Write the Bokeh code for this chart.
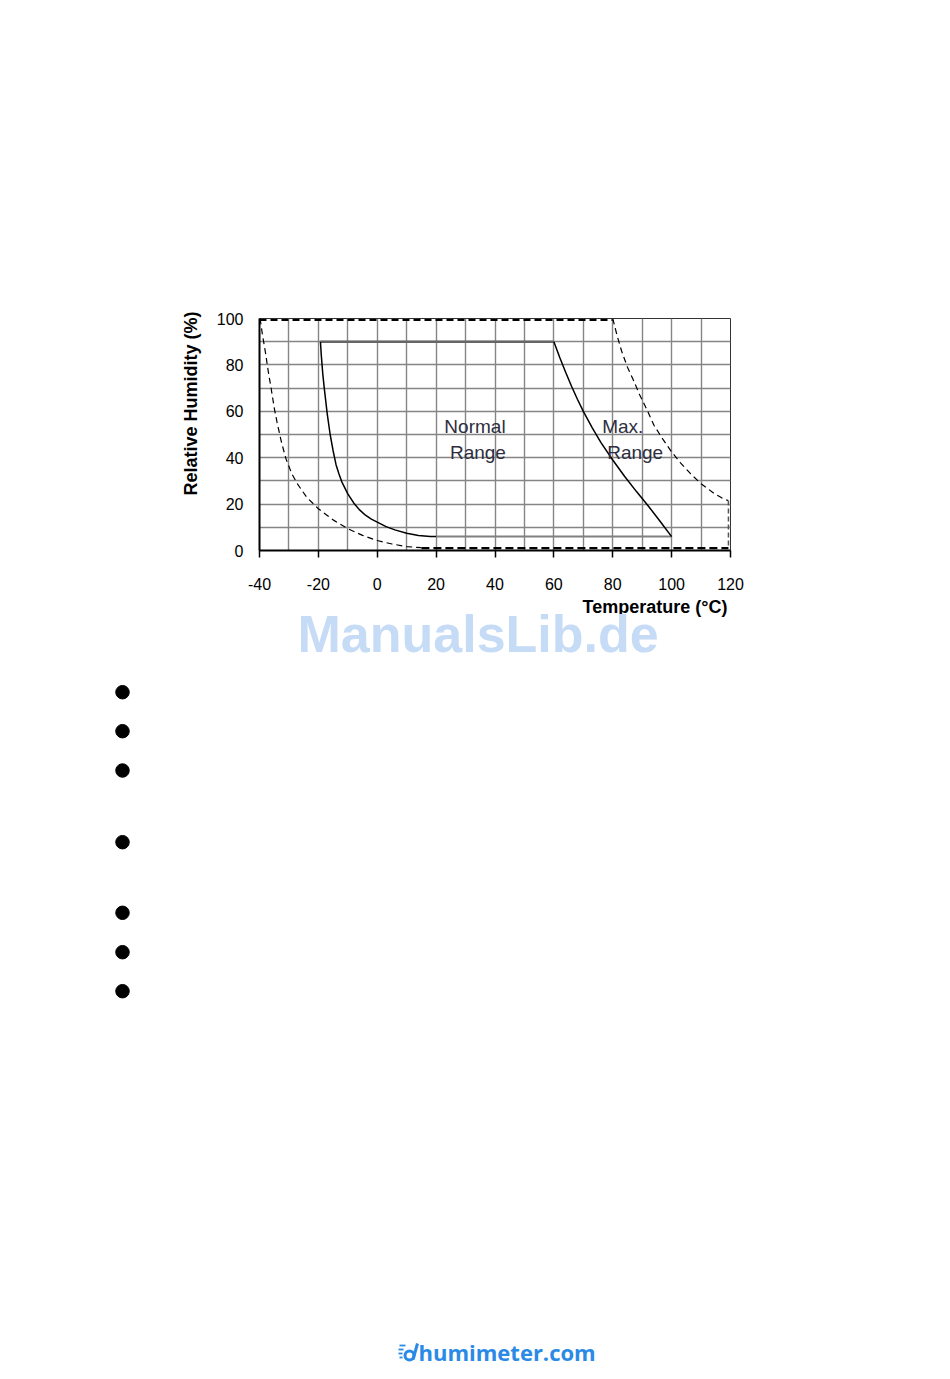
from bokeh.plotting import figure
from bokeh.models import Range1d, FixedTicker, Title
from bokeh.layouts import column
from bokeh.embed import file_html
from bokeh.resources import INLINE
from bokeh.core.properties import value

# ---------------- data ----------------
x_ticks = [-40, -20, 0, 20, 40, 60, 80, 100, 120]
y_ticks = [0, 20, 40, 60, 80, 100]
grid_x = [-30, -20, -10, 0, 10, 20, 30, 40, 50, 60, 70, 80, 90, 100, 110]
grid_y = [10, 20, 30, 40, 50, 60, 70, 80, 90]

# Normal range (solid)
normal_top_t = [-19.3, 60]
normal_top_rh = [90, 90]
normal_left_t = [-19.3, -19, -18.5, -18, -17, -16, -15, -14, -13, -12, -10, -8,
                 -6, -4, -2, 0, 3, 6, 10, 14, 18, 20]
normal_left_rh = [90, 84, 76, 70, 59, 50, 43, 37, 33, 29.5, 24.4, 20.5,
                  17.5, 15.2, 13.5, 12.2, 10.3, 8.9, 7.4, 6.5, 6.0, 6]
normal_right_t = [60, 62, 64, 66, 68, 70, 73, 76, 80, 84, 88, 92, 96, 100]
normal_right_rh = [90, 83.2, 76.8, 70.8, 65.2, 60, 53, 46.5, 39, 32, 25.5, 19.3, 12.7, 6]
normal_bottom_t = [20, 100]
normal_bottom_rh = [6, 6]

# Max range (dashed)
max_top_t = [-40, 80]
max_top_rh = [99.4, 99.4]
max_left_t = [-39.8, -39, -38, -37, -36, -35, -34, -32.5, -31, -29, -27, -24,
              -20, -15, -10, -5, 0, 5, 10, 15]
max_left_rh = [100, 93, 85.5, 77, 69.5, 61.5, 55, 46.5, 39.5, 33, 28.5, 23,
               18, 13.2, 9.4, 6.5, 4.3, 2.8, 1.7, 1.2]
max_right_t = [80, 81.5, 83, 85, 87, 89, 91.5, 94, 97, 100, 103, 106.5, 110,
               114, 117, 119.2]
max_right_rh = [100, 92.5, 86, 79, 73.5, 67.5, 61, 54, 48, 42.5, 37.8, 33, 28.8,
                25, 22.7, 21.5]
max_edge_t = [119.3, 119.3]
max_edge_rh = [21.5, 1]
max_bottom_t = [15, 119.3]
max_bottom_rh = [1, 1]

region_text = ["Normal", "Range"]
region_x = [33.2, 34.2]
region_y = [53.4, 42.2]
max_text = ["Max.", "Range"]
max_x = [76.4, 78.1]
max_y = [53.4, 42.2]

x_title = "Temperature (°C)"
y_title = "Relative Humidity (%)"
watermark = "ManualsLib.de"
logo_text = "humimeter.com"

FONT = "Liberation Sans"


def no_frame_align(fig):
    try:
        fig.frame_align = False
    except Exception:
        pass


# ---------------- chart ----------------
p = figure(frame_width=471, frame_height=232,
           min_border_left=259, min_border_right=212,
           min_border_top=318, min_border_bottom=128,
           x_range=Range1d(-40, 120), y_range=Range1d(0, 100),
           output_backend="svg", toolbar_location=None,
           background_fill_color="white", border_fill_color="white")
no_frame_align(p)

p.outline_line_color = "#333333"
p.outline_line_width = 1

p.xgrid.ticker = FixedTicker(ticks=grid_x)
p.ygrid.ticker = FixedTicker(ticks=grid_y)
p.grid.grid_line_color = "#858585"
p.grid.grid_line_width = 1.4

p.xaxis.ticker = FixedTicker(ticks=x_ticks)
p.yaxis.ticker = FixedTicker(ticks=y_ticks)
p.xaxis.major_label_overrides = {t: str(t) for t in x_ticks}
p.yaxis.major_label_overrides = {t: str(t) for t in y_ticks}
for ax in (p.xaxis, p.yaxis):
    ax.axis_line_color = "black"
    ax.axis_line_width = 2
    ax.major_tick_line_color = "black"
    ax.major_tick_line_width = 1.5
    ax.major_tick_in = 0
    ax.minor_tick_line_color = None
    ax.major_label_text_font = FONT
    ax.major_label_text_font_size = "16px"
    ax.major_label_text_color = "black"
p.xaxis.major_tick_out = 7
p.xaxis.major_label_standoff = 20
p.yaxis.major_tick_out = 0
p.yaxis.major_label_standoff = 16

# normal range
p.line(normal_top_t, normal_top_rh, line_color="#666666", line_width=2.5)
p.line(normal_bottom_t, normal_bottom_rh, line_color="#808080", line_width=2)
p.line(normal_left_t, normal_left_rh, line_color="black", line_width=1.5)
p.line(normal_right_t, normal_right_rh, line_color="black", line_width=1.5)

# max range
p.line(max_top_t, max_top_rh, line_color="black", line_width=2.2, line_dash="7 4")
p.line(max_bottom_t, max_bottom_rh, line_color="black", line_width=2.2, line_dash="8 4")
p.line(max_left_t, max_left_rh, line_color="black", line_width=1.2, line_dash="6 4")
p.line(max_right_t, max_right_rh, line_color="black", line_width=1.2, line_dash="6 4")
p.line(max_edge_t, max_edge_rh, line_color="#555555", line_width=1.5, line_dash="5 3")

p.text(x=region_x, y=region_y, text=region_text, text_align="center",
       text_baseline="middle", text_font=value(FONT), text_font_size="19px",
       text_color="#2e2e40")
p.text(x=max_x, y=max_y, text=max_text, text_align="left",
       text_baseline="middle", text_font=value(FONT), text_font_size="19px",
       text_color="#2e2e40")

# axis titles and watermark as side-panel titles
p.add_layout(Title(text=x_title, align="right", offset=3, text_font=FONT,
                   text_font_style="bold", text_font_size="18px",
                   text_color="black", standoff=4), "below")
p.add_layout(Title(text=watermark, align="left", offset=38, text_font=FONT,
                   text_font_style="bold", text_font_size="52px",
                   text_color="#c6dbf5", standoff=-28, vertical_align="top"), "below")
p.add_layout(Title(text=y_title, align="left", offset=55, text_font=FONT,
                   text_font_style="bold", text_font_size="18px",
                   text_color="black", standoff=26), "left")

# ---------------- rest of page ----------------
bullet_x = [122] * 7
bullet_y = [13.7, 52.7, 92, 163.7, 234.3, 273.7, 312.7]

q = figure(width=942, height=700, min_border=0,
           x_range=Range1d(0, 942), y_range=Range1d(700, 0),
           x_axis_location=None, y_axis_location=None,
           output_backend="svg", toolbar_location=None,
           background_fill_color="white", border_fill_color="white")
no_frame_align(q)
q.outline_line_color = None
q.grid.visible = False

q.scatter(bullet_x, bullet_y, size=13.5, marker="circle", fill_color="black",
          line_color="black")

# logo
logo_blue = "#2a8ae6"
q.annulus(x=[409], y=[677], inner_radius=3.0, outer_radius=6.0,
          fill_color=logo_blue, line_color=None)
q.segment(x0=[412.5], y0=[681], x1=[417], y1=[665], line_color=logo_blue, line_width=3)
q.segment(x0=[399, 398, 398, 399], y0=[667, 671, 675, 679],
          x1=[405, 403, 402, 402], y1=[667, 671, 675, 679],
          line_color=logo_blue, line_width=1.8)
q.text(x=[418], y=[673], text=[logo_text], text_align="left",
       text_baseline="middle", text_font=value("Open Sans"), text_font_style="bold",
       text_font_size="22px", text_color=logo_blue)

layout = column(p, q, spacing=0)
open("out.html", "w").write(file_html(layout, INLINE))
